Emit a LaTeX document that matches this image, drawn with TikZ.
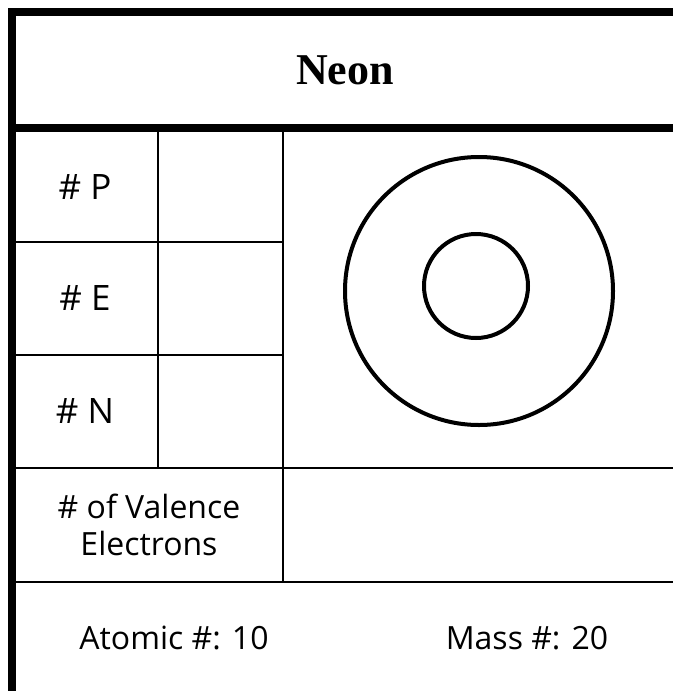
\documentclass[tikz,border=0pt]{standalone}
\usepackage{fontspec}
\setmainfont{Open Sans}
\newfontfamily\titlefont{Liberation Serif}
\usetikzlibrary{positioning}

\begin{document}
\begin{tikzpicture}[
  x=1pt, y=-1pt,
  heavy/.style={line width=8pt, draw=black},
  rule/.style={line width=2.7pt, draw=black},
  shell/.style={line width=4pt, draw=black},
  label/.style={font=\fontsize{32}{37}\selectfont, align=center, inner sep=0pt},
  cell/.style={label, font=\fontsize{35}{40}\selectfont},
  heading/.style={font=\titlefont\bfseries\fontsize{44}{48}\selectfont, inner sep=0pt},
]
\useasboundingbox (0,0) rectangle (673,691);

% ---------------- frame ----------------
\draw[heavy] (12,8) -- (12,691);
\draw[heavy] (8,12) -- (673,12);
\draw[heavy] (8,128) -- (673,128);

% ---------------- grid ----------------
\draw[rule] (16,242) -- (283,242);
\draw[rule] (16,355) -- (283,355);
\draw[rule] (16,468) -- (673,468);
\draw[rule] (16,582) -- (673,582);
\draw[rule] (158,132) -- (158,468);
\draw[rule] (283,132) -- (283,582);

% ---------------- atom model ----------------
\draw[shell] (479,291) circle[radius=134];
\draw[shell] (476,286) circle[radius=52];

% ---------------- labels ----------------
\node[heading] (name) at (345,70) {Neon};
\node[cell] (protons) at (85,187) {\# P};
\node[cell] (electrons) at (85,298) {\# E};
\node[cell] (neutrons) at (85,411) {\# N};
\node[label] (valence) at (149,525) {\# of Valence\\Electrons};
\node[label] (atomic) at (174,638) {Atomic \#: 10};
\node[label] (mass) at (527,638) {Mass \#: 20};

\end{tikzpicture}
\end{document}
